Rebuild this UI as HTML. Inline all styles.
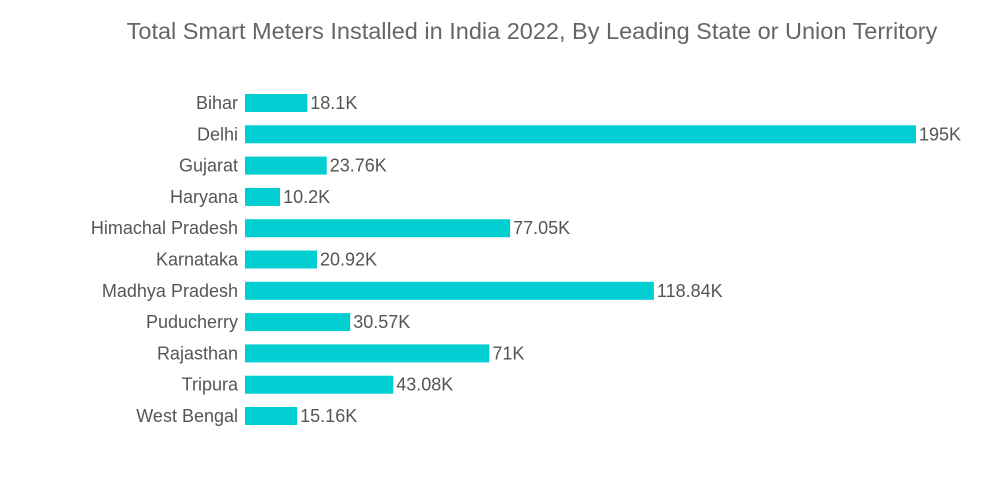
<!DOCTYPE html>
<html><head><meta charset="utf-8"><style>
body{margin:0;background:#fff;}
svg{display:block;font-family:"Liberation Sans",sans-serif;}
</style></head><body>
<svg id="chart" width="1000" height="504">
<text x="532" y="39" text-anchor="middle" font-size="23.5" fill="#666">Total Smart Meters Installed in India 2022, By Leading State or Union Territory</text>
<g id="bars"></g>
</svg>
<script>
const categories=["Bihar","Delhi","Gujarat","Haryana","Himachal Pradesh","Karnataka","Madhya Pradesh","Puducherry","Rajasthan","Tripura","West Bengal"];
const values=[18.1,195,23.76,10.2,77.05,20.92,118.84,30.57,71,43.08,15.16];
const valueLabels=["18.1K","195K","23.76K","10.2K","77.05K","20.92K","118.84K","30.57K","71K","43.08K","15.16K"];
const NS="http://www.w3.org/2000/svg";
const x0=245,xScale=v=>x0+v*(671/195);
const yTop=103,step=31.3,barH=18;
const yPos=i=>yTop+i*step;
const g=document.getElementById('bars');
categories.forEach((c,i)=>{
  const y=yPos(i);
  const t=document.createElementNS(NS,'text');
  t.setAttribute('x',238);t.setAttribute('y',y+6);t.setAttribute('text-anchor','end');
  t.setAttribute('font-size','18');t.setAttribute('fill','#555');t.textContent=c;
  
  
  g.appendChild(t);
  const r=document.createElementNS(NS,'rect');
  r.setAttribute('x',x0);r.setAttribute('y',y-barH/2);r.setAttribute('width',xScale(values[i])-x0);
  r.setAttribute('height',barH);r.setAttribute('fill','#00CED1');
  
  
  g.appendChild(r);
  const v=document.createElementNS(NS,'text');
  v.setAttribute('x',xScale(values[i])+3);v.setAttribute('y',y+6);
  v.setAttribute('font-size','18');v.setAttribute('fill','#555');v.textContent=valueLabels[i];
  
  
  g.appendChild(v);
});
</script>
</body></html>
